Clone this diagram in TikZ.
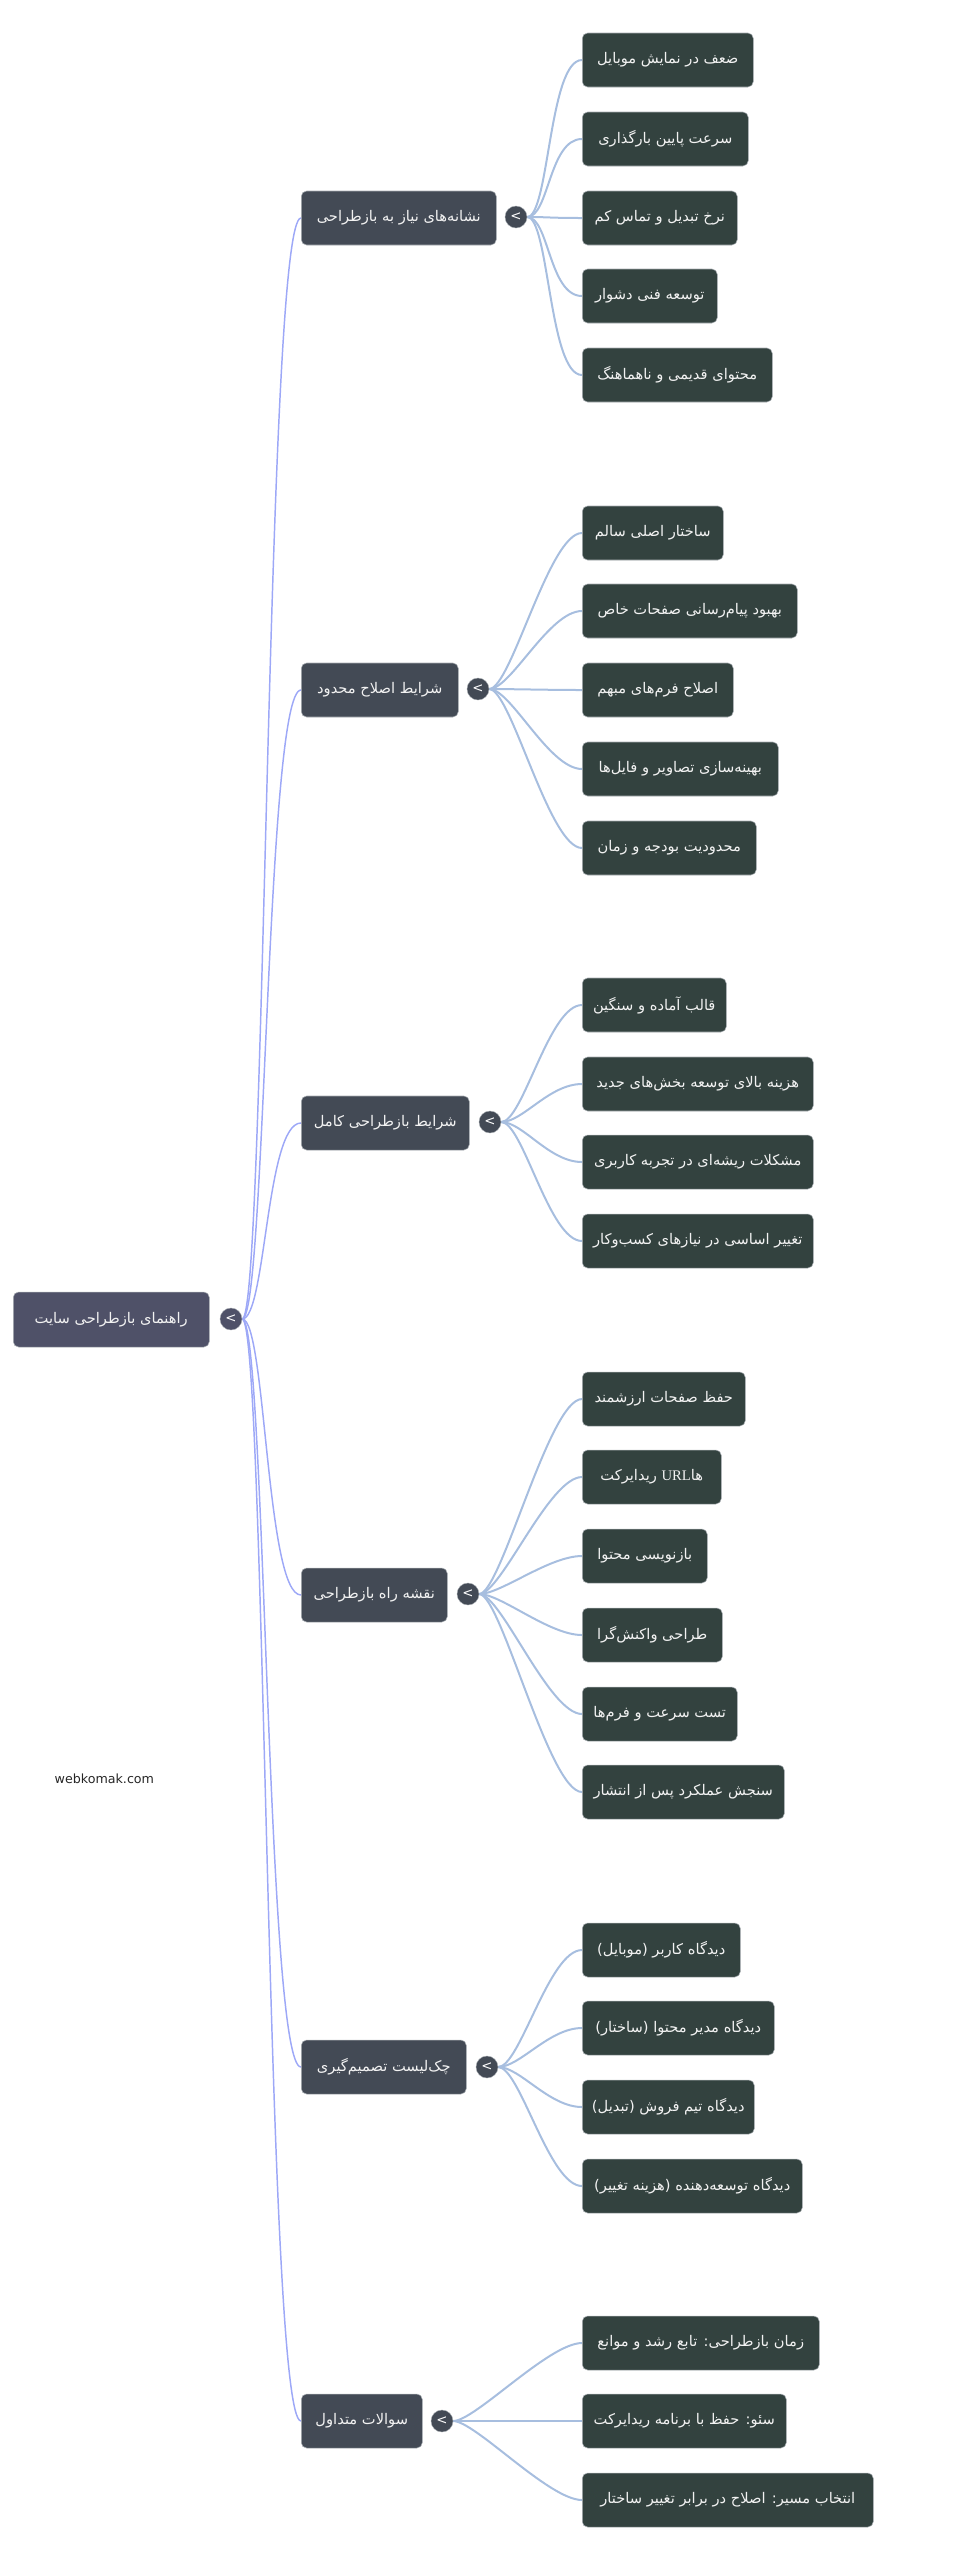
\documentclass[tikz,border=0pt]{standalone}
\usepackage{fontspec}
\setmainfont{DejaVu Sans}
\newfontfamily\farsi[Script=Arabic]{DejaVu Sans}
\newfontfamily\urlfont{Liberation Serif}
\TeXXeTstate=1
\newcommand{\fatxt}[1]{\beginR#1\endR}
\usepackage{tikz}
\pgfdeclarelayer{bg}
\pgfsetlayers{bg,main}
\definecolor{rootfill}{HTML}{4F5168}
\definecolor{branchfill}{HTML}{434A55}
\definecolor{leaffill}{HTML}{33423F}
\definecolor{rootwire}{HTML}{9DA8F7}
\definecolor{leafwire}{HTML}{A7BEDF}
\definecolor{boxedge}{HTML}{A9AEB3}
\tikzset{
    mapbox/.style={rectangle, rounded corners=4pt, draw=boxedge, line width=.4pt,
        anchor=west, minimum height=40.5pt, inner xsep=0pt, text=white!95!black,
        font=\farsi\fontsize{11}{13}\selectfont},
    rootbox/.style={mapbox, fill=rootfill},
    branchbox/.style={mapbox, fill=branchfill},
    leafbox/.style={mapbox, fill=leaffill},
    knob/.style={circle, draw=boxedge, line width=.3pt, inner sep=0pt, minimum size=16.5pt,
        text=white, font=\fontsize{10}{10}\selectfont},
    rootlink/.style={draw=rootwire, line width=1.1pt,
        to path={.. controls +(35,0) and +(-35,0) .. (\tikztotarget)}},
    leaflink/.style={draw=leafwire, line width=1.5pt,
        to path={.. controls +(33,0) and +(-33,0) .. (\tikztotarget)}}
}

\begin{document}
\begin{tikzpicture}[x=0.75pt, y=-0.75pt]
    \useasboundingbox (0,0) rectangle (960,2560);

    \node (root) [rootbox, minimum width=147pt, minimum height=41.25pt] at (13, 1319.5) {\fatxt{راهنمای بازطراحی سایت}};
    \node (rk) [knob, fill=rootfill] at (231, 1319) {<};

    \node (b1) [branchbox, minimum width=146.25pt] at (301, 218) {\fatxt{نشانه‌های نیاز به بازطراحی}};
    \node (b2) [branchbox, minimum width=117.75pt] at (301, 690) {\fatxt{شرایط اصلاح محدود}};
    \node (b3) [branchbox, minimum width=126pt] at (301, 1123) {\fatxt{شرایط بازطراحی کامل}};
    \node (b4) [branchbox, minimum width=109.5pt] at (301, 1595) {\fatxt{نقشه راه بازطراحی}};
    \node (b5) [branchbox, minimum width=123.75pt] at (301, 2067) {\fatxt{چک‌لیست تصمیم‌گیری}};
    \node (b6) [branchbox, minimum width=90.75pt] at (301, 2421) {\fatxt{سوالات متداول}};

    \node (k1) [knob, fill=branchfill] at (516, 217) {<};
    \node (k2) [knob, fill=branchfill] at (478, 689) {<};
    \node (k3) [knob, fill=branchfill] at (490, 1122) {<};
    \node (k4) [knob, fill=branchfill] at (468, 1594) {<};
    \node (k5) [knob, fill=branchfill] at (487, 2067) {<};
    \node (k6) [knob, fill=branchfill] at (442, 2421) {<};

    \begin{pgfonlayer}{bg}
        \draw (rk) edge [rootlink] (b1.west);
        \draw (rk) edge [rootlink] (b2.west);
        \draw (rk) edge [rootlink] (b3.west);
        \draw (rk) edge [rootlink] (b4.west);
        \draw (rk) edge [rootlink] (b5.west);
        \draw (rk) edge [rootlink] (b6.west);
    \end{pgfonlayer}

    \node (l11) [leafbox, minimum width=128.25pt] at (582, 60) {\fatxt{ضعف در نمایش موبایل}};
    \node (l12) [leafbox, minimum width=124.5pt] at (582, 139) {\fatxt{سرعت پایین بارگذاری}};
    \node (l13) [leafbox, minimum width=116.25pt] at (582, 218) {\fatxt{نرخ تبدیل و تماس کم}};
    \node (l14) [leafbox, minimum width=101.25pt] at (582, 296) {\fatxt{توسعه فنی دشوار}};
    \node (l15) [leafbox, minimum width=142.5pt] at (582, 375) {\fatxt{محتوای قدیمی و ناهماهنگ}};

    \begin{pgfonlayer}{bg}
        \draw (k1) edge [leaflink] (l11.west);
        \draw (k1) edge [leaflink] (l12.west);
        \draw (k1) edge [leaflink] (l13.west);
        \draw (k1) edge [leaflink] (l14.west);
        \draw (k1) edge [leaflink] (l15.west);
    \end{pgfonlayer}

    \node (l21) [leafbox, minimum width=105.75pt] at (582, 533) {\fatxt{ساختار اصلی سالم}};
    \node (l22) [leafbox, minimum width=161.25pt] at (582, 611) {\fatxt{بهبود پیام‌رسانی صفحات خاص}};
    \node (l23) [leafbox, minimum width=113.25pt] at (582, 690) {\fatxt{اصلاح فرم‌های مبهم}};
    \node (l24) [leafbox, minimum width=147pt] at (582, 769) {\fatxt{بهینه‌سازی تصاویر و فایل‌ها}};
    \node (l25) [leafbox, minimum width=130.5pt] at (582, 848) {\fatxt{محدودیت بودجه و زمان}};

    \begin{pgfonlayer}{bg}
        \draw (k2) edge [leaflink] (l21.west);
        \draw (k2) edge [leaflink] (l22.west);
        \draw (k2) edge [leaflink] (l23.west);
        \draw (k2) edge [leaflink] (l24.west);
        \draw (k2) edge [leaflink] (l25.west);
    \end{pgfonlayer}

    \node (l31) [leafbox, minimum width=108pt] at (582, 1005) {\fatxt{قالب آماده و سنگین}};
    \node (l32) [leafbox, minimum width=173.25pt] at (582, 1084) {\fatxt{هزینه بالای توسعه بخش‌های جدید}};
    \node (l33) [leafbox, minimum width=173.25pt] at (582, 1162) {\fatxt{مشکلات ریشه‌ای در تجربه کاربری}};
    \node (l34) [leafbox, minimum width=173.25pt] at (582, 1241) {\fatxt{تغییر اساسی در نیازهای کسب‌وکار}};

    \begin{pgfonlayer}{bg}
        \draw (k3) edge [leaflink] (l31.west);
        \draw (k3) edge [leaflink] (l32.west);
        \draw (k3) edge [leaflink] (l33.west);
        \draw (k3) edge [leaflink] (l34.west);
    \end{pgfonlayer}

    \node (l41) [leafbox, minimum width=122.25pt] at (582, 1399) {\fatxt{حفظ صفحات ارزشمند}};
    \node (l42) [leafbox, minimum width=104.25pt] at (582, 1477) {\fatxt{ها\beginL{\urlfont URL}\endL{} ریدایرکت}};
    \node (l43) [leafbox, minimum width=93.75pt] at (582, 1556) {\fatxt{بازنویسی محتوا}};
    \node (l44) [leafbox, minimum width=105pt] at (582, 1635) {\fatxt{طراحی واکنش‌گرا}};
    \node (l45) [leafbox, minimum width=116.25pt] at (582, 1714) {\fatxt{تست سرعت و فرم‌ها}};
    \node (l46) [leafbox, minimum width=151.5pt] at (582, 1792) {\fatxt{سنجش عملکرد پس از انتشار}};

    \begin{pgfonlayer}{bg}
        \draw (k4) edge [leaflink] (l41.west);
        \draw (k4) edge [leaflink] (l42.west);
        \draw (k4) edge [leaflink] (l43.west);
        \draw (k4) edge [leaflink] (l44.west);
        \draw (k4) edge [leaflink] (l45.west);
        \draw (k4) edge [leaflink] (l46.west);
    \end{pgfonlayer}

    \node (l51) [leafbox, minimum width=118.5pt] at (582, 1950) {\fatxt{دیدگاه کاربر (موبایل)}};
    \node (l52) [leafbox, minimum width=144pt] at (582, 2028) {\fatxt{دیدگاه مدیر محتوا (ساختار)}};
    \node (l53) [leafbox, minimum width=129pt] at (582, 2107) {\fatxt{دیدگاه تیم فروش (تبدیل)}};
    \node (l54) [leafbox, minimum width=165pt] at (582, 2186) {\fatxt{دیدگاه توسعه‌دهنده (هزینه تغییر)}};

    \begin{pgfonlayer}{bg}
        \draw (k5) edge [leaflink] (l51.west);
        \draw (k5) edge [leaflink] (l52.west);
        \draw (k5) edge [leaflink] (l53.west);
        \draw (k5) edge [leaflink] (l54.west);
    \end{pgfonlayer}

    \node (l61) [leafbox, minimum width=177.75pt] at (582, 2343) {\fatxt{زمان بازطراحی: تابع رشد و موانع}};
    \node (l62) [leafbox, minimum width=153pt] at (582, 2421) {\fatxt{سئو: حفظ با برنامه ریدایرکت}};
    \node (l63) [leafbox, minimum width=218.25pt] at (582, 2500) {\fatxt{انتخاب مسیر: اصلاح در برابر تغییر ساختار}};

    \begin{pgfonlayer}{bg}
        \draw (k6) edge [leaflink] (l61.west);
        \draw (k6) edge [leaflink] (l62.west);
        \draw (k6) edge [leaflink] (l63.west);
    \end{pgfonlayer}

    \node (mark) [anchor=west, text=black!85, font=\fontsize{9.5}{11}\selectfont] at (50, 1779) {webkomak.com};
\end{tikzpicture}
\end{document}
